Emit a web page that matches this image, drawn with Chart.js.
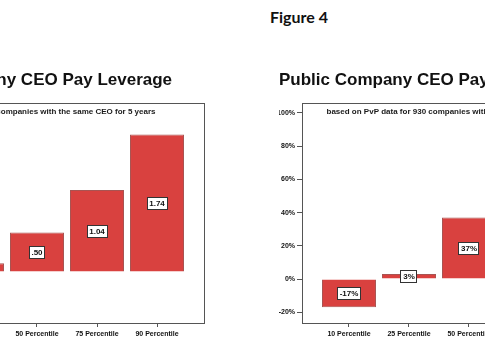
<!DOCTYPE html>
<html>
<head>
<meta charset="utf-8">
<script src="https://cdn.jsdelivr.net/npm/chart.js@4"></script>
<style>
  body { margin: 0; background: #fff; }
  #page { position: relative; width: 485px; height: 360px; overflow: hidden; }
  #fig { position: absolute; left: 240px; top: 7px; width: 118px; text-align: center;
         font: bold 16px Lato, sans-serif; color: #111; }
  canvas { position: absolute; }
</style>
</head>
<body>
<div id="page">
  <div id="fig">Figure 4</div>
  <canvas id="leverage" width="395" height="290" style="left:-180px; top:60px;"></canvas>
  <canvas id="pvp" width="384" height="290" style="left:262px; top:60px;"></canvas>
</div>
<script>
// categories
const percentiles = ["10 Percentile", "25 Percentile", "50 Percentile", "75 Percentile", "90 Percentile"]

// pay leverage (left chart)
const leverage_values = [-0.22, 0.11, 0.50, 1.04, 1.74]
const leverage_ticks = [-0.5, 0, 0.5, 1, 1.5, 2]

// pay for performance, percent (right chart)
const pvp_values = [-17, 3, 37, 63, 98]
const pvp_ticks = [-20, 0, 20, 40, 60, 80, 100]

const subtitle = "based on PvP data for 930 companies with the same CEO for 5 years"
const barColor = "#d9413f"
const lineColor = "#555"
const tickFont = { family: "'Liberation Sans', Arial, sans-serif", size: 7, weight: "bold" }

// label formats per canvas (kept out of chart options so they are not treated as scriptable)
const formats = {
  leverage: v => v.toFixed(2).replace(/^(-?)0\./, "$1."),
  pvp: v => v + "%"
}

// box around the plot plus the small subtitle line inside it
const framePlugin = {
  id: "frame",
  beforeDatasetsDraw(chart) {
    const a = chart.chartArea, ctx = chart.ctx
    ctx.save()
    ctx.strokeStyle = lineColor
    ctx.lineWidth = 1
    ctx.strokeRect(a.left + 0.5, a.top + 0.5, a.right - a.left, a.bottom - a.top)
    ctx.font = "bold 8px 'Liberation Sans', Arial, sans-serif"
    ctx.fillStyle = "#1a1a1a"
    ctx.textAlign = "center"
    ctx.textBaseline = "middle"
    ctx.fillText(subtitle, (a.left + a.right) / 2 - 12, a.top + 9)
    ctx.restore()
  }
}

// white value boxes in the middle of each bar
const valueBoxes = {
  id: "valueBoxes",
  afterDatasetsDraw(chart) {
    const ctx = chart.ctx
    const fmt = formats[chart.canvas.id]
    const meta = chart.getDatasetMeta(0)
    ctx.save()
    ctx.font = "bold 8px 'Liberation Sans', Arial, sans-serif"
    ctx.textAlign = "center"
    ctx.textBaseline = "middle"
    meta.data.forEach((bar, i) => {
      const txt = fmt(chart.data.datasets[0].data[i].y)
      const w = Math.round(ctx.measureText(txt).width) + 5
      const cy = Math.round((bar.y + bar.base) / 2)
      const x = Math.round(bar.x - w / 2)
      ctx.fillStyle = "#fff"
      ctx.fillRect(x, cy - 6, w, 13)
      ctx.strokeStyle = "#333"
      ctx.lineWidth = 1
      ctx.strokeRect(x + 0.5, cy - 5.5, w - 1, 12)
      ctx.fillStyle = "#111"
      ctx.fillText(txt, bar.x, cy + 1)
    })
    ctx.restore()
  }
}

function makeChart(id, values, opts) {
  return new Chart(document.getElementById(id), {
    type: "bar",
    data: {
      datasets: [{
        data: values.map((v, i) => ({ x: i, y: v })),
        backgroundColor: barColor,
        borderColor: "#a85452",
        borderWidth: 1,
        barPercentage: 0.9,
        categoryPercentage: 1.0
      }]
    },
    options: {
      responsive: false,
      animation: false,
      layout: { padding: opts.padding },
      plugins: {
        legend: { display: false },
        tooltip: { enabled: false },
        title: {
          display: true,
          text: opts.title,
          align: opts.titleAlign,
          color: "#111",
          font: { family: "'Liberation Sans', Arial, sans-serif", size: 17, weight: "bold" },
          padding: { top: 10, bottom: 12.6 }
        }
      },
      scales: {
        x: {
          type: "linear",
          offset: false,
          min: -0.783,
          max: 4.783,
          afterBuildTicks: s => { s.ticks = percentiles.map((p, i) => ({ value: i })) },
          afterFit: s => { s.height = 27 },
          ticks: { padding: 3, color: "#111", font: tickFont, maxRotation: 0, autoSkip: false,
                   callback: v => percentiles[v] },
          grid: { offset: false, drawOnChartArea: false, tickLength: 4, color: lineColor },
          border: { color: lineColor }
        },
        y: {
          min: opts.yMin,
          max: opts.yMax,
          afterBuildTicks: s => { s.ticks = opts.yTicks.map(v => ({ value: v })) },
          afterFit: s => { s.width = opts.yWidth },
          ticks: { padding: 2, color: "#111", font: tickFont, callback: v => opts.yLabel(v) },
          grid: { drawOnChartArea: false, tickLength: 5, color: lineColor },
          border: { color: lineColor }
        }
      }
    },
    plugins: [framePlugin, valueBoxes]
  })
}

makeChart("leverage", leverage_values, {
  title: "Public Company CEO Pay Leverage",
  titleAlign: "center",
  padding: { left: 31, right: 11, top: 0, bottom: 0 },
  yWidth: 19,
  yMin: -0.645,
  yMax: 2.14,
  yTicks: leverage_ticks,
  yLabel: formats.leverage
})

makeChart("pvp", pvp_values, {
  title: "Public Company CEO Pay for Performance",
  titleAlign: "start",
  padding: { left: 17, right: 10, top: 0, bottom: 0 },
  yWidth: 23,
  yMin: -26.5,
  yMax: 106,
  yTicks: pvp_ticks,
  yLabel: formats.pvp
})
</script>
</body>
</html>
